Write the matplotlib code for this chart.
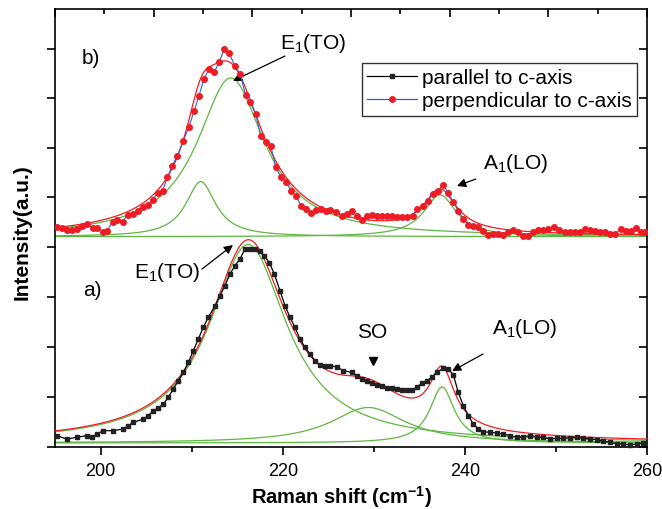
import numpy as np
import matplotlib
matplotlib.use('Agg')
import matplotlib.pyplot as plt
from matplotlib.lines import Line2D

plt.rcParams['font.family'] = ['Liberation Sans', 'DejaVu Sans']
plt.rcParams['mathtext.fontset'] = 'custom'
plt.rcParams['mathtext.rm'] = 'Liberation Sans'
plt.rcParams['mathtext.it'] = 'Liberation Sans:italic'
plt.rcParams['mathtext.bf'] = 'Liberation Sans:bold'
plt.rcParams['mathtext.default'] = 'regular'

# ---------------- data: panel a) parallel to c-axis ----------------
par_x = [195.19, 196.28, 197.38, 198.48, 199.03, 199.58, 200.3, 201.4, 202.5, 203.05,
         203.6, 204.7, 205.24, 205.8, 206.34, 206.9, 207.44, 207.99, 208.54, 209.09,
         209.64, 210.19, 210.74, 211.28, 211.83, 212.57, 213.12, 213.66, 214.21, 214.76,
         215.31, 215.86, 216.41, 216.96, 217.5, 218.0, 218.53, 219.08, 219.7, 220.25,
         220.8, 221.35, 221.9, 222.45, 223.0, 223.55, 224.1, 224.6, 225.19, 225.93,
         226.66, 227.57, 228.12, 228.67, 229.22, 229.77, 230.32, 230.87, 231.42, 231.97,
         232.52, 233.07, 233.61, 234.16, 234.71, 235.26, 235.81, 236.36, 236.91, 237.64,
         238.18, 238.73, 239.28, 239.83, 240.38, 240.93, 241.48, 242.03, 242.76, 243.5,
         244.22, 244.96, 245.69, 246.42, 247.15, 247.89, 248.61, 249.35, 250.08, 250.8,
         251.54, 252.28, 253.0, 253.74, 254.47, 255.2, 255.94, 256.67, 257.4, 258.13,
         258.87, 259.6]
par_y = [0.227, 0.16, 0.193, 0.227, 0.193, 0.26, 0.327, 0.327, 0.36, 0.427,
         0.493, 0.56, 0.627, 0.727, 0.78, 0.86, 0.993, 1.16, 1.327, 1.493,
         1.693, 1.927, 2.16, 2.393, 2.593, 2.827, 3.027, 3.227, 3.46, 3.627,
         3.76, 3.96, 3.97, 3.97, 3.93, 3.82, 3.69, 3.46, 3.127, 2.827,
         2.593, 2.393, 2.16, 1.993, 1.86, 1.727, 1.64, 1.63, 1.627, 1.6,
         1.527, 1.493, 1.427, 1.36, 1.327, 1.28, 1.24, 1.213, 1.173, 1.173,
         1.16, 1.147, 1.133, 1.14, 1.193, 1.273, 1.327, 1.393, 1.493, 1.573,
         1.56, 1.447, 1.093, 0.827, 0.627, 0.46, 0.36, 0.307, 0.293, 0.28,
         0.26, 0.227, 0.193, 0.207, 0.227, 0.207, 0.193, 0.16, 0.173, 0.173,
         0.187, 0.193, 0.18, 0.16, 0.147, 0.113, 0.093, 0.06, 0.06, 0.04,
         0.06, 0.08]

# ---------------- data: panel b) perpendicular to c-axis ----------------
perp_x = [195.19, 195.74, 196.28, 196.83, 197.38, 197.93, 198.55, 199.14, 199.65, 200.24,
          200.74, 201.33, 201.84, 202.43, 202.98, 203.53, 204.08, 204.63, 205.18, 205.72,
          206.27, 206.82, 207.33, 207.88, 208.43, 209.09, 209.71, 210.26, 210.81, 211.36,
          211.91, 212.46, 213.01, 213.59, 214.14, 214.76, 215.31, 215.94, 216.41, 217.04,
          217.58, 218.13, 218.68, 219.26, 219.81, 220.36, 220.91, 221.46, 222.01, 222.56,
          223.11, 223.66, 224.2, 224.75, 225.19, 225.85, 226.47, 227.03, 227.57, 228.12,
          228.67, 229.22, 229.77, 230.32, 230.87, 231.42, 231.97, 232.52, 233.07, 233.69,
          234.28, 234.78, 235.37, 235.92, 236.47, 237.02, 237.64, 238.18, 238.73, 239.28,
          239.83, 240.38, 240.93, 241.48, 242.03, 242.57, 243.12, 243.67, 244.22, 244.77,
          245.32, 245.87, 246.42, 246.97, 247.52, 248.07, 248.61, 249.16, 249.79, 250.37,
          251.0, 251.55, 252.09, 252.64, 253.19, 253.74, 254.29, 254.84, 255.39, 255.94,
          256.49, 257.11, 257.66, 258.21, 258.79, 259.34, 259.78]
perp_y = [0.397, 0.376, 0.349, 0.343, 0.363, 0.43, 0.464, 0.376, 0.376, 0.309,
          0.329, 0.511, 0.551, 0.511, 0.645, 0.665, 0.732, 0.813, 0.847, 0.948,
          1.089, 1.135, 1.405, 1.64, 1.84, 2.143, 2.425, 2.735, 3.05, 3.387,
          3.589, 3.52, 3.72, 3.99, 3.91, 3.64, 3.49, 3.06, 2.917, 2.68,
          2.244, 2.123, 2.042, 1.607, 1.405, 1.317, 1.135, 1.034, 0.833, 0.766,
          0.685, 0.752, 0.766, 0.732, 0.752, 0.712, 0.631, 0.665, 0.732, 0.631,
          0.551, 0.631, 0.645, 0.618, 0.618, 0.618, 0.618, 0.598, 0.598, 0.598,
          0.631, 0.766, 0.833, 0.934, 1.069, 1.135, 1.257, 1.089, 0.901, 0.732,
          0.565, 0.444, 0.43, 0.397, 0.329, 0.242, 0.262, 0.262, 0.242, 0.296,
          0.349, 0.296, 0.228, 0.215, 0.296, 0.349, 0.349, 0.363, 0.397, 0.349,
          0.296, 0.296, 0.309, 0.309, 0.363, 0.349, 0.329, 0.296, 0.296, 0.262,
          0.262, 0.363, 0.329, 0.329, 0.376, 0.309, 0.296]

# ---------------- Lorentzian fit parameters (center, HWHM, amplitude) ----------------
a_baseline = 0.08
a_peak_names = ['E1(TO)', 'SO', 'A1(LO)']
a_centers = [216.2, 229.4, 237.5]
a_hwhm = [5.2, 5.0, 1.65]
a_amps = [3.97, 0.71, 1.12]

b_baseline = 0.208
b_peak_names = ['low', 'E1(TO)', 'A1(LO)']
b_centers = [211.0, 214.3, 237.27]
b_hwhm = [2.0, 4.5, 2.2]
b_amps = [1.11, 3.2, 0.84]

x_min, x_max = 195, 260

GREEN = '#5cb840'
RED = '#ee1c24'
BLUE = '#3a5fcd'


def lorentz(x, c, g, a):
    return a * g ** 2 / ((x - c) ** 2 + g ** 2)


fig = plt.figure(figsize=(6.62, 5.10), dpi=100)
ax_a = fig.add_axes([55 / 662, 62 / 510, 592 / 662, 200 / 510])
ax_b = fig.add_axes([55 / 662, 262 / 510, 592 / 662, 238 / 510])
ax_a.set_zorder(3)
ax_a.patch.set_visible(False)

xf = np.linspace(x_min, x_max, 800)

# ---- panel a
tot = np.full_like(xf, a_baseline)
for c, g, a in zip(a_centers, a_hwhm, a_amps):
    comp = lorentz(xf, c, g, a)
    tot += comp
    ax_a.plot(xf, a_baseline + comp, color=GREEN, lw=0.9, zorder=2, clip_on=False)
ax_a.plot(xf, tot, color=RED, lw=0.9, zorder=3, clip_on=False)
ax_a.plot(par_x, par_y, color='black', lw=0.9, marker='s', ms=3.3,
          mec='#222222', mfc='#222222', zorder=4, clip_on=False)

# ---- panel b
tot = np.full_like(xf, b_baseline)
for c, g, a in zip(b_centers, b_hwhm, b_amps):
    comp = lorentz(xf, c, g, a)
    tot += comp
    ax_b.plot(xf, b_baseline + comp, color=GREEN, lw=0.9, zorder=2)
ax_b.plot(xf, tot, color=RED, lw=0.9, zorder=3)
ax_b.plot(perp_x, perp_y, color=BLUE, lw=0.8, marker='o', ms=4.0,
          mec=RED, mfc=RED, zorder=4)

# ---- axes styling
for ax in (ax_a, ax_b):
    ax.set_xlim(x_min, x_max)
    for s in ax.spines.values():
        s.set_linewidth(1.2)
ax_a.set_ylim(0, 4)
ax_b.set_ylim(0, 238 / 49.6)
ax_a.spines['top'].set_visible(False)
ax_b.spines['bottom'].set_visible(False)

ax_a.set_xticks([200, 220, 240, 260])
ax_a.set_xticks([210, 230, 250], minor=True)
ax_a.tick_params(axis='x', which='major', direction='out', length=6, width=1.2,
                 labelsize=13, pad=5, top=False)
ax_a.tick_params(axis='x', which='minor', direction='out', length=3.5, width=1.2, top=False)
ax_a.set_yticks([0, 1, 2, 3, 4])
ax_a.tick_params(axis='y', direction='out', length=6, width=1.2, labelleft=False)

top_major = np.linspace(x_min, x_max, 7)
top_minor = (top_major[:-1] + top_major[1:]) / 2
ax_b.set_xticks(top_major)
ax_b.set_xticks(top_minor, minor=True)
ax_b.tick_params(axis='x', which='both', bottom=False, top=True, labelbottom=False,
                 direction='in', width=1.2)
ax_b.tick_params(axis='x', which='major', length=6)
ax_b.tick_params(axis='x', which='minor', length=3.5)
ax_b.set_yticks([1, 2, 3, 4])
ax_b.tick_params(axis='y', direction='out', length=6, width=1.2, labelleft=False)

# right-side inward ticks
for ax, yt in ((ax_a, [0, 1, 2, 3, 4]), (ax_b, [1, 2, 3, 4])):
    tw = ax.twinx()
    tw.set_ylim(ax.get_ylim())
    tw.set_yticks(yt)
    tw.tick_params(axis='y', direction='in', length=6, width=1.2, labelright=False)
    for s in tw.spines.values():
        s.set_visible(False)

# ---- annotations
fs = 15
arrow_kw = dict(arrowstyle='-|>', color='black', lw=0.9, mutation_scale=13,
                shrinkA=0, shrinkB=0)
ax_b.text(198.95, 3.83, 'b)', fontsize=fs, ha='center', va='center')
ax_b.text(223.3, 4.13, 'E$_1$(TO)', fontsize=fs, ha='center', va='center')
ax_b.annotate('', xy=(214.54, 3.35), xytext=(220.25, 3.85), arrowprops=arrow_kw)
ax_b.text(245.6, 1.71, 'A$_1$(LO)', fontsize=fs, ha='center', va='center')
ax_b.annotate('', xy=(239.14, 1.23), xytext=(241.2, 1.37), arrowprops=arrow_kw)

ax_a.text(199.06, 3.14, 'a)', fontsize=fs, ha='center', va='center')
ax_a.text(207.3, 3.52, 'E$_1$(TO)', fontsize=fs, ha='center', va='center')
ax_a.annotate('', xy=(214.54, 4.04), xytext=(211.14, 3.56), arrowprops=arrow_kw,
              annotation_clip=False)
ax_a.text(229.8, 2.3, 'SO', fontsize=fs, ha='center', va='center')
ax_a.plot([229.9], [1.72], marker='v', color='black', ms=5.5)
ax_a.text(246.6, 2.38, 'A$_1$(LO)', fontsize=fs, ha='center', va='center')
ax_a.annotate('', xy=(238.6, 1.52), xytext=(242.0, 1.86), arrowprops=arrow_kw)

# ---- legend
handles = [Line2D([], [], color='black', lw=0.9, marker='s', ms=3.3, mfc='#222222', mec='#222222'),
           Line2D([], [], color=BLUE, lw=0.9, marker='o', ms=4.0, mfc=RED, mec=RED)]
leg = ax_b.legend(handles, ['parallel to c-axis', 'perpendicular to c-axis'],
                  loc='upper left', bbox_to_anchor=(0.5186, 0.773), fontsize=15,
                  numpoints=1, handlelength=2.4, handletextpad=0.25, borderpad=0.25,
                  labelspacing=0.2, borderaxespad=0, fancybox=False, framealpha=1)
leg.get_frame().set_edgecolor('#333333')
leg.get_frame().set_linewidth(1.0)

# ---- axis labels
fig.text(22 / 662, 1 - 232 / 510, 'Intensity(a.u.)', rotation=90, fontsize=15,
         fontweight='bold', ha='center', va='center')
fig.text(342 / 662, 1 - 497 / 510, r'Raman shift (cm$^{\mathbf{-1}}$)', fontsize=14.5,
         fontweight='bold', ha='center', va='center')

fig.savefig('out.png', dpi=100)
